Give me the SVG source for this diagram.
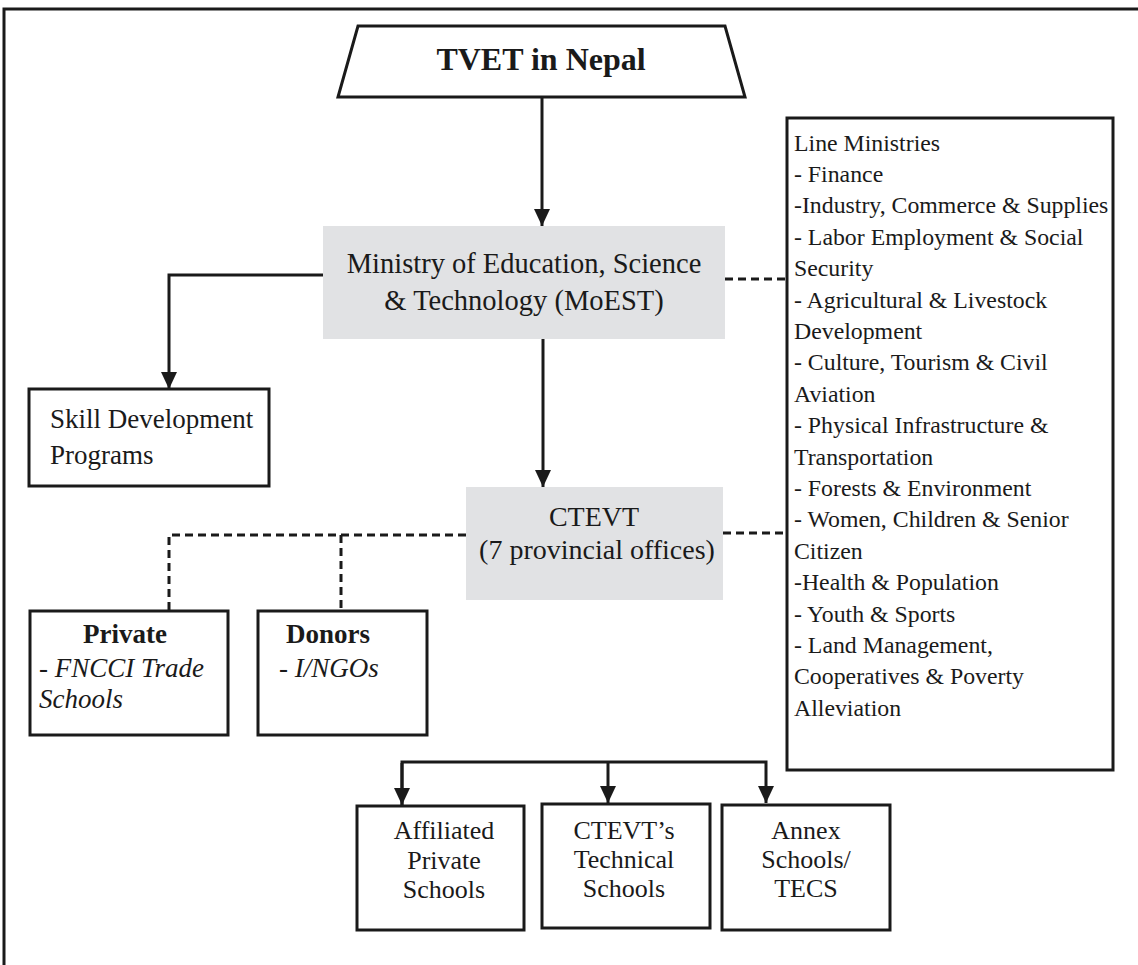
<svg xmlns="http://www.w3.org/2000/svg" width="1138" height="965" viewBox="0 0 1138 965">
<defs>
<marker id="arr" markerUnits="userSpaceOnUse" markerWidth="18" markerHeight="16" refX="17" refY="8" orient="auto" viewBox="0 0 18 16">
<path d="M0,0 L17,8 L0,16 Z" fill="#1a1a1a"/>
</marker>
</defs>
<style>
.box{fill:#fff;stroke:#1a1a1a;stroke-width:3}
.gray{fill:#e1e2e4;stroke:none}
.ln{fill:none;stroke:#1a1a1a;stroke-width:3}
.ds{fill:none;stroke:#1a1a1a;stroke-width:3;stroke-dasharray:8 5}
.t{font-family:"Liberation Serif","Times New Roman",serif;fill:#1a1a1a}
.c{text-anchor:middle}
</style>
<rect width="1138" height="965" fill="#fff"/>
<g id="frame">
<path class="ln" d="M4,965 L4,9 L1138,9"/>
</g>
<g id="connectors">
<line class="ln" x1="542" y1="97" x2="542" y2="226" marker-end="url(#arr)"/>
<path class="ln" d="M323,275 L169,275 L169,389" marker-end="url(#arr)"/>
<line class="ln" x1="543" y1="339" x2="543" y2="487" marker-end="url(#arr)"/>
<line class="ds" x1="725" y1="279" x2="787" y2="279"/>
<line class="ds" x1="723" y1="533" x2="787" y2="533"/>
<path class="ds" d="M466,535 L169,535 L169,611"/>
<line class="ds" x1="341" y1="535" x2="341" y2="611"/>
<path class="ln" d="M402,805 L402,762 L766,762 L766,803" marker-end="url(#arr)"/>
<line class="ln" x1="402" y1="763" x2="402" y2="805" marker-end="url(#arr)"/>
<line class="ln" x1="608" y1="762" x2="608" y2="803" marker-end="url(#arr)"/>
</g>
<g id="tvet">
<path class="box" d="M358,26 L725,26 L745,97 L338,97 Z"/>
<text class="t c" x="541" y="70" font-size="32" font-weight="bold">TVET in Nepal</text>
</g>
<g id="moest">
<rect class="gray" x="323" y="226" width="402" height="113"/>
<text class="t c" x="524" y="273" font-size="28.5">Ministry of Education, Science</text>
<text class="t c" x="524" y="310" font-size="28.5">&amp; Technology (MoEST)</text>
</g>
<g id="skill">
<rect class="box" x="29" y="389" width="240" height="97"/>
<text class="t" x="50" y="428" font-size="27">Skill Development</text>
<text class="t" x="50" y="464" font-size="27">Programs</text>
</g>
<g id="ctevt">
<rect class="gray" x="466" y="487" width="257" height="113"/>
<text class="t c" x="594" y="526" font-size="28">CTEVT</text>
<text class="t c" x="597" y="559" font-size="28">(7 provincial offices)</text>
</g>
<g id="line-ministries">
<rect class="box" x="787" y="118" width="326" height="652"/>
<g class="t" font-size="23.8">
<text x="794" y="150.5">Line Ministries</text>
<text x="794" y="181.9">- Finance</text>
<text x="794" y="213.3">-Industry, Commerce &amp; Supplies</text>
<text x="794" y="244.7">- Labor Employment &amp; Social</text>
<text x="794" y="276.1">Security</text>
<text x="794" y="307.5">- Agricultural &amp; Livestock</text>
<text x="794" y="338.9">Development</text>
<text x="794" y="370.3">- Culture, Tourism &amp; Civil</text>
<text x="794" y="401.7">Aviation</text>
<text x="794" y="433.1">- Physical Infrastructure &amp;</text>
<text x="794" y="464.5">Transportation</text>
<text x="794" y="495.9">- Forests &amp; Environment</text>
<text x="794" y="527.3">- Women, Children &amp; Senior</text>
<text x="794" y="558.7">Citizen</text>
<text x="794" y="590.1">-Health &amp; Population</text>
<text x="794" y="621.5">- Youth &amp; Sports</text>
<text x="794" y="652.9">- Land Management,</text>
<text x="794" y="684.3">Cooperatives &amp; Poverty</text>
<text x="794" y="715.7">Alleviation</text>
</g>
</g>
<g id="private">
<rect class="box" x="30" y="611" width="198" height="124"/>
<text class="t c" x="125" y="643" font-size="27" font-weight="bold">Private</text>
<text class="t" x="39" y="677" font-size="27" font-style="italic">- FNCCI Trade</text>
<text class="t" x="39" y="708" font-size="27" font-style="italic">Schools</text>
</g>
<g id="donors">
<rect class="box" x="258" y="611" width="169" height="124"/>
<text class="t c" x="328" y="643" font-size="27" font-weight="bold">Donors</text>
<text class="t" x="279" y="677" font-size="27" font-style="italic">- I/NGOs</text>
</g>
<g id="affiliated">
<rect class="box" x="357" y="806" width="167" height="124"/>
<text class="t c" x="444" y="839" font-size="26">Affiliated</text>
<text class="t c" x="444" y="869" font-size="26">Private</text>
<text class="t c" x="444" y="898" font-size="26">Schools</text>
</g>
<g id="ctevt-schools">
<rect class="box" x="542" y="804" width="168" height="124"/>
<text class="t c" x="624" y="839" font-size="26">CTEVT’s</text>
<text class="t c" x="624" y="868" font-size="26">Technical</text>
<text class="t c" x="624" y="897" font-size="26">Schools</text>
</g>
<g id="annex">
<rect class="box" x="722" y="805" width="168" height="125"/>
<text class="t c" x="806" y="839" font-size="26">Annex</text>
<text class="t c" x="806" y="868" font-size="26">Schools/</text>
<text class="t c" x="806" y="897" font-size="26">TECS</text>
</g>
</svg>
